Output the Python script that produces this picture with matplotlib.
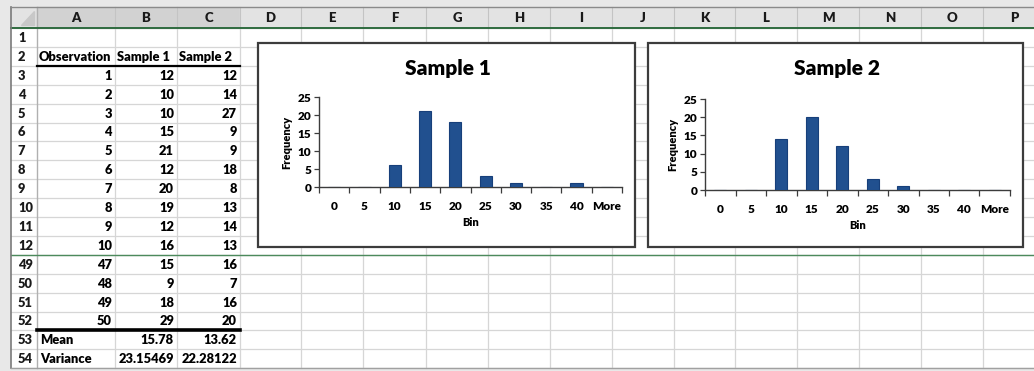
import numpy as np
import matplotlib.pyplot as plt
from matplotlib.patches import Rectangle, Polygon

plt.rcParams['font.family'] = ['Lato', 'DejaVu Sans']

# sheet contents
col_letters = ['A', 'B', 'C', 'D', 'E', 'F', 'G', 'H', 'I', 'J', 'K', 'L', 'M', 'N', 'O', 'P']
row_numbers = [1, 2, 3, 4, 5, 6, 7, 8, 9, 10, 11, 12, 49, 50, 51, 52, 53, 54]
header = ['Observation', 'Sample 1', 'Sample 2']
observation = [1, 2, 3, 4, 5, 6, 7, 8, 9, 10, 47, 48, 49, 50]
sample1 = [12, 10, 10, 15, 21, 12, 20, 19, 12, 16, 15, 9, 18, 29]
sample2 = [12, 14, 27, 9, 9, 18, 8, 13, 14, 13, 16, 7, 16, 20]
stat_names = ['Mean', 'Variance']
stat_sample1 = ['15.78', '23.15469']
stat_sample2 = ['13.62', '22.28122']

# histogram output
bins = ['0', '5', '10', '15', '20', '25', '30', '35', '40', 'More']
freq1 = [0, 0, 6, 21, 18, 3, 1, 0, 1, 0]
freq2 = [0, 0, 14, 20, 12, 3, 1, 0, 0, 0]

W, H = 1034, 371
BOLD = 'heavy'
fig = plt.figure(figsize=(W / 100, H / 100), dpi=100)
bg = fig.add_axes([0, 0, 1, 1])
bg.set_xlim(0, W)
bg.set_ylim(H, 0)
bg.axis('off')

# layout of the sheet in pixels
left, top = 11, 7
hdr_bottom = 28
row_h = 18.9
col_edges = [37, 115, 177, 240, 301, 363, 426, 488, 550, 612, 674, 735, 797, 859, 921, 983, 1045]
row_edges = [hdr_bottom + row_h * i for i in range(len(row_numbers) + 1)]
sheet_bottom = row_edges[-1]

bg.add_patch(Rectangle((0, 0), W, H, color='#e8e8e8', zorder=0))
bg.add_patch(Rectangle((left, top), W - left, sheet_bottom - top, color='white', zorder=0.5))

# column header strip
bg.add_patch(Rectangle((left, top), W - left, hdr_bottom - top, color='#e3e3e3', zorder=1))
for i, letter in enumerate(col_letters):
    x0, x1 = col_edges[i], col_edges[i + 1]
    shade = '#d2d2d2' if i < 3 else '#e3e3e3'
    bg.add_patch(Rectangle((x0, top), x1 - x0, hdr_bottom - top, color=shade, zorder=1))
    bg.plot([x1, x1], [top, hdr_bottom], color='#c4c4c4', lw=0.8, zorder=2)
    bg.text((x0 + x1) / 2, (top + hdr_bottom) / 2 + 1, letter, ha='center', va='center',
            fontsize=9.5, fontweight=BOLD, color='#1a1a1a', zorder=3)
bg.add_patch(Polygon([[col_edges[0] - 3, top + 4], [col_edges[0] - 3, hdr_bottom - 3],
                      [col_edges[0] - 16, hdr_bottom - 3]], color='#c8c8c8', zorder=2))
bg.plot([col_edges[0], col_edges[0]], [top, sheet_bottom], color='#b0b0b0', lw=1, zorder=2)

# grid lines
for x in col_edges[1:]:
    bg.plot([x, x], [hdr_bottom, sheet_bottom], color='#d6d6d6', lw=0.9, zorder=1)
for y in row_edges[1:]:
    bg.plot([left, W], [y, y], color='#d6d6d6', lw=0.9, zorder=1)

bg.plot([left, W], [hdr_bottom, hdr_bottom], color='#2f6b3f', lw=1.4, zorder=2)
bg.plot([left, W], [row_edges[12], row_edges[12]], color='#4c8a5c', lw=1.0, zorder=2)
bg.plot([left, left], [top, sheet_bottom], color='#7a7a7a', lw=1.2, zorder=2)
bg.plot([left, W], [top, top], color='#8a8a8a', lw=1, zorder=2)
bg.plot([left, W], [sheet_bottom, sheet_bottom], color='#a0a0a0', lw=1, zorder=2)

# row numbers
for i, r in enumerate(row_numbers):
    yc = (row_edges[i] + row_edges[i + 1]) / 2
    bg.text(18, yc + 0.5, str(r), ha='left', va='center', fontsize=9.3,
            fontweight=BOLD, color='#1a1a1a', zorder=3)

def cell_y(k):
    return (row_edges[k] + row_edges[k + 1]) / 2 + 0.5

txt = dict(fontsize=9.3, fontweight=BOLD, color='black', va='center', zorder=3)

for j, h in enumerate(header):
    bg.text(col_edges[j] + 2, cell_y(1), h, ha='left', **txt)

for k in range(len(observation)):
    values = [observation[k], sample1[k], sample2[k]]
    for j, v in enumerate(values):
        bg.text(col_edges[j + 1] - 3, cell_y(k + 2), str(v), ha='right', **txt)

for k, name in enumerate(stat_names):
    yk = cell_y(k + 16)
    bg.text(col_edges[0] + 3, yk, name, ha='left', **txt)
    bg.text(col_edges[2] - 3, yk, stat_sample1[k], ha='right', **txt)
    bg.text(col_edges[3] - 3, yk, stat_sample2[k], ha='right', **txt)

bg.plot([col_edges[0], col_edges[3]], [row_edges[2], row_edges[2]], color='black', lw=1.6, zorder=2)
bg.plot([col_edges[0], col_edges[3]], [row_edges[16], row_edges[16]], color='black', lw=2.6, zorder=2)


def to_fig(x0, y0, x1, y1):
    return [x0 / W, 1 - y1 / H, (x1 - x0) / W, (y1 - y0) / H]


def histogram(frame, plot_box, title, freq):
    fx0, fy0, fx1, fy1 = frame
    bg.add_patch(Rectangle((fx0, fy0), fx1 - fx0, fy1 - fy0, facecolor='white',
                           edgecolor='#3c3c3c', lw=1.6, zorder=4))
    bg.text((fx0 + fx1) / 2 + 1, fy0 + 25, title, ha='center', va='center',
            fontsize=15, fontweight=BOLD, color='black', zorder=5)
    ax = fig.add_axes(to_fig(*plot_box))
    ax.patch.set_alpha(0)
    x = np.arange(len(bins))
    ax.bar(x, freq, width=0.4, color='#21508f', edgecolor='#173f7a', lw=0.8, zorder=3)
    ax.set_xlim(-0.5, len(bins) - 0.5)
    ax.set_ylim(0, 25)
    ax.set_yticks(range(0, 26, 5))
    ax.set_xticks(np.arange(len(bins) + 1) - 0.5)
    ax.set_xticklabels([])
    ax.set_xticks(x, minor=True)
    ax.set_xticklabels(bins, minor=True)
    ax.tick_params(axis='x', which='major', length=4, width=0.9, color='#3c3c3c', direction='out')
    ax.tick_params(axis='x', which='minor', length=0, pad=10, labelsize=8.5)
    ax.tick_params(axis='y', length=3.5, width=0.9, color='#3c3c3c', pad=2, labelsize=8.5)
    for lab in ax.get_xticklabels(minor=True) + ax.get_yticklabels():
        lab.set_fontweight(BOLD)
    for s in ['top', 'right']:
        ax.spines[s].set_visible(False)
    for s in ['left', 'bottom']:
        ax.spines[s].set_color('#3c3c3c')
        ax.spines[s].set_linewidth(1.0)
    ax.set_ylabel('Frequency', fontsize=8, fontweight=BOLD, labelpad=4)
    ax.set_xlabel('Bin', fontsize=8, fontweight=BOLD, labelpad=4)
    return ax


histogram((258, 43, 635, 247), (319, 97, 622, 187), 'Sample 1', freq1)
histogram((648, 43, 1023, 247), (705, 99, 1010, 190), 'Sample 2', freq2)

fig.savefig('out.png', dpi=100)
